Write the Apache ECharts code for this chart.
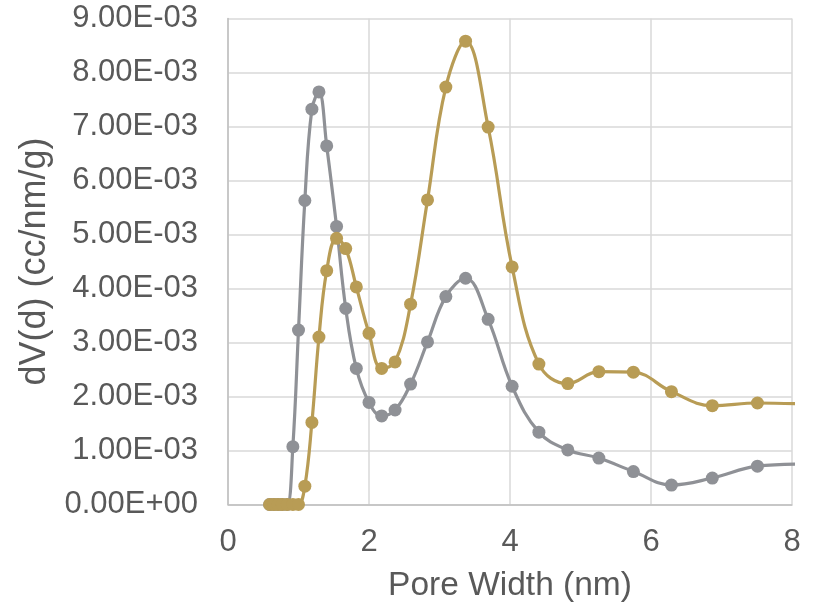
<!DOCTYPE html>
<html>
<head>
<meta charset="utf-8">
<script src="https://cdn.jsdelivr.net/npm/echarts@6/dist/echarts.min.js"></script>
<style>html,body{margin:0;padding:0;background:#fff}#c{width:817px;height:613px}</style>
</head>
<body>
<div id="c"></div>
<script>
const poreWidth = [0.59,0.65,0.71,0.77,0.84,0.92,1.00,1.09,1.19,1.29,1.40,1.54,1.67,1.82,2.00,2.18,2.37,2.59,2.83,3.09,3.37,3.69,4.03,4.41,4.82,5.26,5.75,6.29,6.87,7.51,8.2];
const graySeries = [0,0,0,0,0,1.07e-3,3.23e-3,5.63e-3,7.32e-3,7.64e-3,6.64e-3,5.15e-3,3.63e-3,2.52e-3,1.89e-3,1.64e-3,1.75e-3,2.23e-3,3.01e-3,3.85e-3,4.19e-3,3.43e-3,2.19e-3,1.34e-3,1.01e-3,0.86e-3,0.61e-3,0.36e-3,0.49e-3,0.71e-3,0.75e-3];
const goldSeries = [0,0,0,0,0,0,0,0.34e-3,1.52e-3,3.10e-3,4.33e-3,4.93e-3,4.74e-3,4.03e-3,3.17e-3,2.52e-3,2.64e-3,3.71e-3,5.64e-3,7.73e-3,8.58e-3,6.99e-3,4.40e-3,2.60e-3,2.24e-3,2.46e-3,2.45e-3,2.09e-3,1.83e-3,1.88e-3,1.86e-3];
const xTicks = [0,2,4,6,8];
const yTicks = [0,1e-3,2e-3,3e-3,4e-3,5e-3,6e-3,7e-3,8e-3,9e-3];

function expFmt(v){
  let s = Number(v).toExponential(2).toUpperCase();
  let m = s.match(/^(-?[\d.]+)E([+-])(\d+)$/);
  if(!m) return s;
  let e = m[3].length < 2 ? '0'+m[3] : m[3];
  return m[1]+'E'+m[2]+e;
}
const font = 'Liberation Sans, Arial, sans-serif';
const txt = '#595959';
const chart = echarts.init(document.getElementById('c'), null, {renderer:'canvas'});
chart.setOption({
  animation:false,
  backgroundColor:'#fff',
  grid:{left:228,right:25,top:18.5,bottom:108.5,containLabel:false},
  xAxis:{
    type:'value',min:xTicks[0],max:xTicks[xTicks.length-1],interval:2,
    name:'Pore Width (nm)',nameLocation:'middle',nameGap:64,
    nameTextStyle:{color:txt,fontSize:33.5,fontFamily:font},
    axisLine:{show:true,lineStyle:{color:'#bfbfbf',width:1.5}},
    axisTick:{show:false},
    axisLabel:{color:txt,fontSize:31,fontFamily:font,margin:22},
    splitLine:{show:true,lineStyle:{color:'#d9d9d9',width:1.5}}
  },
  yAxis:{
    type:'value',min:yTicks[0],max:yTicks[yTicks.length-1],interval:1e-3,
    name:'dV(d) (cc/nm/g)',nameLocation:'middle',nameGap:170,
    nameTextStyle:{color:txt,fontSize:36,fontFamily:font},
    axisLine:{show:true,lineStyle:{color:'#bfbfbf',width:1.5}},
    axisTick:{show:false},
    axisLabel:{color:txt,fontSize:31,fontFamily:font,margin:30,formatter:expFmt},
    splitLine:{show:true,lineStyle:{color:'#d9d9d9',width:1.5}}
  },
  series:[
    {type:'line',name:'gray',data:poreWidth.map((x,i)=>[x,graySeries[i]]),smooth:0.4,
     symbol:'circle',symbolSize:13,showSymbol:true,clip:true,
     itemStyle:{color:'#8f9196'},lineStyle:{color:'#8f9196',width:3.2}},
    {type:'line',name:'gold',data:poreWidth.map((x,i)=>[x,goldSeries[i]]),smooth:0.4,
     symbol:'circle',symbolSize:13,showSymbol:true,clip:true,
     itemStyle:{color:'#b89c55'},lineStyle:{color:'#b89c55',width:3.2}}
  ]
});
</script>
</body>
</html>
